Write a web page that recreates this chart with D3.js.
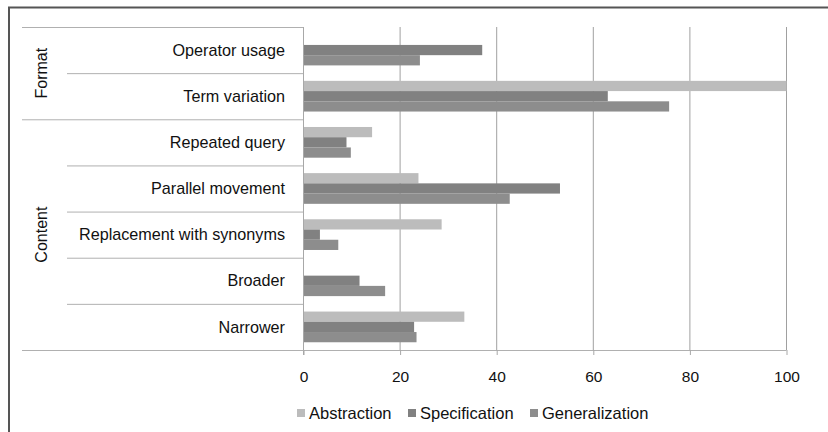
<!DOCTYPE html>
<html>
<head>
<meta charset="utf-8">
<script src="https://cdn.jsdelivr.net/npm/d3@7"></script>
<style>
  body { margin: 0; background: #fff; }
  svg text { font-family: "Liberation Sans", Arial, sans-serif; fill: #111; }
</style>
</head>
<body>
<svg id="chart" width="828" height="432"></svg>
<script>
// categories top to bottom
let categories = ["Operator usage", "Term variation", "Repeated query", "Parallel movement",
    "Replacement with synonyms", "Broader", "Narrower"];
let groups = [
    { name: "Format", from: 0, to: 2 },
    { name: "Content", from: 2, to: 7 }
];
let series = ["Abstraction", "Specification", "Generalization"];
let abstraction = [0, 100, 14.2, 23.8, 28.6, 0, 33.3];
let specification = [37, 63, 8.9, 53.1, 3.4, 11.6, 22.9];
let generalization = [24.1, 75.7, 9.8, 42.7, 7.2, 16.9, 23.4];
let xTicks = [0, 20, 40, 60, 80, 100];
let colors = ["#bcbcbc", "#818181", "#8d8d8d"];

let svg = d3.select("#chart");

let x = d3.scaleLinear().domain([0, 100]).range([303.5, 786.5]);
let y = d3.scaleBand().domain(categories).range([27, 350]);
let ySub = d3.scaleBand().domain(series).range([7.7, 38.4]); // bars inside a band
let color = d3.scaleOrdinal().domain(series).range(colors);

let values = [abstraction, specification, generalization];

// outer frame (only left + top visible)
svg.append("path")
    .attr("d", "M9,432V7.5H828")
    .attr("fill", "none")
    .attr("stroke", "#555")
    .attr("stroke-width", 2);

// gridlines
svg.append("g").selectAll("line")
    .data(xTicks.slice(1))
    .enter().append("line")
    .attr("x1", d => x(d)).attr("x2", d => x(d))
    .attr("y1", 27).attr("y2", 350)
    .attr("stroke", "#a0a0a0");

// bars
categories.forEach((c, i) => {
    let g = svg.append("g").attr("transform", `translate(0,${y(c)})`);
    g.selectAll("rect")
        .data(series.map((s, k) => ({ s: s, v: values[k][i] })).filter(d => d.v > 0))
        .enter().append("rect")
        .attr("x", x(0))
        .attr("y", d => ySub(d.s))
        .attr("width", d => x(d.v) - x(0))
        .attr("height", ySub.bandwidth())
        .attr("fill", d => color(d.s));
});

// category separators
let seps = svg.append("g").attr("stroke", "#b0b0b0");
categories.forEach((c, i) => {
    if (i === 0) return;
    let isGroup = groups.some(g => g.from === i);
    seps.append("line")
        .attr("x1", isGroup ? 22 : 67).attr("x2", x(0))
        .attr("y1", y(c) + 0.5).attr("y2", y(c) + 0.5);
});
seps.append("line").attr("x1", 22).attr("x2", x(0)).attr("y1", 27.5).attr("y2", 27.5);

// vertical axis line
svg.append("line")
    .attr("x1", x(0)).attr("x2", x(0))
    .attr("y1", 27).attr("y2", 355)
    .attr("stroke", "#a8a8a8");

// x axis
let xAxis = svg.append("g")
    .attr("transform", "translate(0,350)")
    .call(d3.axisBottom(x).tickValues(xTicks).tickSize(5).tickPadding(16));
xAxis.select(".domain").attr("stroke", "#b0b0b0").attr("d", `M22,0.5H${x(100)}`);
xAxis.selectAll(".tick line").attr("stroke", "#a8a8a8");
xAxis.selectAll(".tick text").attr("font-size", 15.5).attr("fill", "#111")
    .attr("font-family", "Liberation Sans, Arial, sans-serif");

// category labels
svg.append("g").selectAll("text")
    .data(categories)
    .enter().append("text")
    .attr("x", 285)
    .attr("y", d => y(d) + y.bandwidth() / 2)
    .attr("dy", "0.35em")
    .attr("text-anchor", "end")
    .attr("font-size", 16.2)
    .text(d => d);

// group labels
svg.append("g").selectAll("text")
    .data(groups)
    .enter().append("text")
    .attr("transform", d => {
        let cy = (y(categories[d.from]) + y(categories[d.to - 1]) + y.bandwidth()) / 2;
        return `translate(41,${cy}) rotate(-90)`;
    })
    .attr("dy", "0.35em")
    .attr("text-anchor", "middle")
    .attr("font-size", 16)
    .attr("fill", "#333")
    .text(d => d.name);

// legend
let legendX = [297, 408, 530];
let legend = svg.append("g").attr("transform", "translate(0,413)");
series.forEach((s, i) => {
    legend.append("rect")
        .attr("x", legendX[i]).attr("y", -4)
        .attr("width", 8).attr("height", 8)
        .attr("fill", color(s));
    legend.append("text")
        .attr("x", legendX[i] + 12).attr("y", 0)
        .attr("dy", "0.35em")
        .attr("font-size", 16.5)
        .text(s);
});
</script>
</body>
</html>
